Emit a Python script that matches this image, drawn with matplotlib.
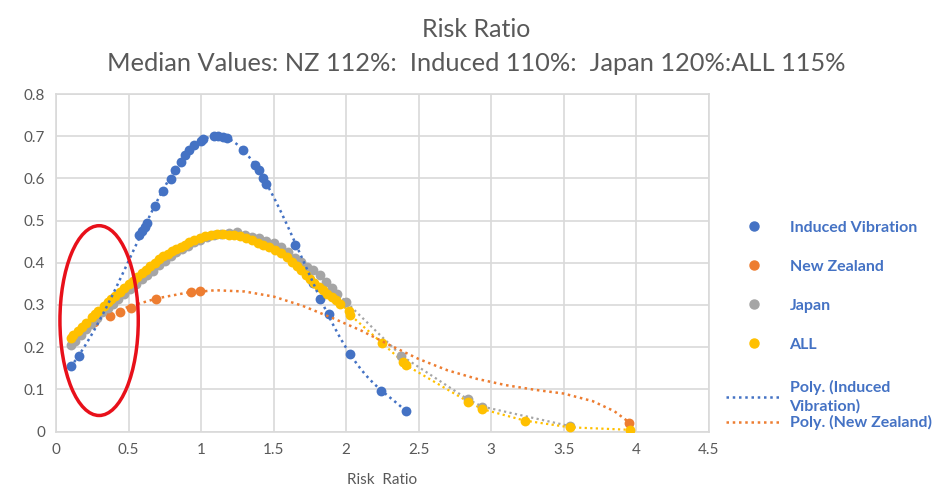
import numpy as np
import matplotlib
matplotlib.use("Agg")
import matplotlib.pyplot as plt
from matplotlib.patches import Ellipse
from matplotlib.lines import Line2D

plt.rcParams['font.family'] = ['Lato', 'DejaVu Sans']

# ---------------- data ----------------
iv_x = [0.10, 0.16, 0.57, 0.59, 0.61, 0.63, 0.68, 0.74, 0.79, 0.82, 0.86, 0.89, 0.92, 0.95,
        1.00, 1.01, 1.09, 1.12, 1.15, 1.18, 1.29, 1.37, 1.40, 1.43, 1.45, 1.65, 1.73, 1.77,
        1.82, 1.88, 2.03, 2.24, 2.41]
iv_y = [0.155, 0.178, 0.465, 0.475, 0.485, 0.495, 0.535, 0.570, 0.598, 0.620, 0.638, 0.655,
        0.668, 0.680, 0.690, 0.693, 0.700, 0.700, 0.699, 0.696, 0.668, 0.632, 0.620, 0.600,
        0.588, 0.443, 0.385, 0.352, 0.314, 0.279, 0.184, 0.096, 0.049]

nz_x = [0.26, 0.37, 0.44, 0.52, 0.69, 0.93, 0.99, 3.95]
nz_y = [0.260, 0.274, 0.283, 0.294, 0.315, 0.330, 0.334, 0.021]

# NZ polynomial trendline
nz_trend_x = [0.44, 0.5, 0.7, 0.9, 1.1, 1.3, 1.5, 1.7, 1.9, 2.1, 2.3, 2.5, 2.7, 2.9, 3.1,
              3.3, 3.5, 3.7, 3.85, 3.95]
nz_trend_y = [0.288, 0.296, 0.316, 0.329, 0.335, 0.332, 0.320, 0.298, 0.270, 0.240, 0.205,
              0.172, 0.145, 0.125, 0.110, 0.099, 0.090, 0.072, 0.048, 0.022]

jp_x = [0.10, 0.13, 0.17, 0.21, 0.24, 0.28, 0.32, 0.36, 0.39, 0.43, 0.47, 0.51, 0.55, 0.59,
        0.63, 0.67, 0.71, 0.75, 0.79, 0.83, 0.87, 0.91, 0.95, 0.99, 1.04, 1.09, 1.14, 1.19,
        1.25, 1.30, 1.35, 1.40, 1.45, 1.50, 1.55, 1.60, 1.65, 1.69, 1.73, 1.77, 1.82, 1.86,
        1.90, 1.94, 2.00, 2.38, 2.84, 2.94, 3.54]
jp_y = [0.205, 0.214, 0.228, 0.243, 0.256, 0.270, 0.283, 0.293, 0.302, 0.314, 0.326, 0.339,
        0.350, 0.361, 0.371, 0.381, 0.395, 0.405, 0.416, 0.425, 0.433, 0.441, 0.449, 0.455,
        0.461, 0.465, 0.468, 0.470, 0.473, 0.467, 0.462, 0.458, 0.452, 0.446, 0.438, 0.426,
        0.412, 0.401, 0.390, 0.382, 0.372, 0.355, 0.341, 0.327, 0.307, 0.180, 0.076, 0.059,
        0.013]

all_x = [0.10, 0.12, 0.15, 0.18, 0.21, 0.25, 0.27, 0.29, 0.33, 0.36, 0.38, 0.41, 0.44, 0.47,
         0.50, 0.53, 0.56, 0.59, 0.62, 0.65, 0.68, 0.71, 0.74, 0.77, 0.80, 0.83, 0.86, 0.89,
         0.92, 0.95, 0.99, 1.03, 1.07, 1.11, 1.15, 1.19, 1.23, 1.27, 1.31, 1.35, 1.39, 1.43,
         1.47, 1.51, 1.55, 1.59, 1.63, 1.66, 1.69, 1.72, 1.75, 1.78, 1.81, 1.84, 1.87, 1.90,
         1.93, 1.96, 2.02, 2.03, 2.25, 2.39, 2.41, 2.84, 2.94, 3.23, 3.54, 3.96]
all_y = [0.221, 0.228, 0.238, 0.248, 0.258, 0.272, 0.279, 0.285, 0.298, 0.307, 0.314, 0.322,
         0.331, 0.340, 0.349, 0.357, 0.366, 0.375, 0.383, 0.392, 0.400, 0.408, 0.415, 0.421,
         0.427, 0.432, 0.437, 0.443, 0.449, 0.454, 0.459, 0.463, 0.466, 0.468, 0.468, 0.467,
         0.466, 0.463, 0.459, 0.454, 0.448, 0.442, 0.437, 0.431, 0.423, 0.413, 0.401, 0.392,
         0.383, 0.372, 0.362, 0.352, 0.343, 0.335, 0.327, 0.319, 0.311, 0.303, 0.285, 0.276,
         0.209, 0.166, 0.158, 0.071, 0.053, 0.026, 0.010, 0.004]

x_ticks = [0, 0.5, 1, 1.5, 2, 2.5, 3, 3.5, 4, 4.5]
x_tick_labels = ['0', '0.5', '1', '1.5', '2', '2.5', '3', '3.5', '4', '4.5']
y_ticks = [0, 0.1, 0.2, 0.3, 0.4, 0.5, 0.6, 0.7, 0.8]
y_tick_labels = ['0', '0.1', '0.2', '0.3', '0.4', '0.5', '0.6', '0.7', '0.8']

# highlight ellipse (center x, center y, width, height) in data units
highlight = [0.297, 0.263, 0.54, 0.45]

BLUE = '#4472C4'
ORANGE = '#ED7D31'
GRAY = '#A5A5A5'
YELLOW = '#FFC000'
TXT = '#595959'
DOT = (0, (1, 1.5))

fig = plt.figure(figsize=(9.4, 4.98), dpi=100)
ax = fig.add_axes([0.0596, 0.1335, 0.6944, 0.6775])

ms = 50
# dotted connecting lines for Japan & ALL
ax.plot(jp_x, jp_y, linestyle=DOT, color=GRAY, lw=1.6, zorder=2)
ax.plot(all_x, all_y, linestyle=DOT, color=YELLOW, lw=1.6, zorder=2)

ax.scatter(iv_x, iv_y, s=ms, color=BLUE, zorder=3, linewidths=0)
ax.scatter(nz_x, nz_y, s=ms, color=ORANGE, zorder=3, linewidths=0)
ax.scatter(jp_x, jp_y, s=ms, color=GRAY, zorder=3, linewidths=0)
ax.scatter(all_x, all_y, s=ms, color=YELLOW, zorder=4, linewidths=0)

# polynomial trendline for Induced Vibration
coef = np.polyfit(iv_x, iv_y, 6)
xx = np.linspace(min(iv_x), max(iv_x), 300)
ax.plot(xx, np.polyval(coef, xx), linestyle=DOT, color=BLUE, lw=1.8, zorder=5)
# NZ trendline
ax.plot(nz_trend_x, nz_trend_y, linestyle=DOT, color=ORANGE, lw=1.8, zorder=5)

ax.add_patch(Ellipse((highlight[0], highlight[1]), highlight[2], highlight[3],
                     fill=False, edgecolor='#E8101A', lw=2.5, zorder=6))

ax.set_xlim(0, 4.5)
ax.set_ylim(0, 0.8)
ax.set_xticks(x_ticks)
ax.set_xticklabels(x_tick_labels)
ax.set_yticks(y_ticks)
ax.set_yticklabels(y_tick_labels)
ax.grid(True, color='#D9D9D9', lw=1.2)
ax.set_axisbelow(True)
for s in ax.spines.values():
    s.set_color('#D9D9D9')
    s.set_linewidth(1.2)
ax.tick_params(length=0, labelsize=11, labelcolor=TXT, pad=8)
ax.set_xlabel('Risk  Ratio', fontsize=11, color=TXT, labelpad=12)

fig.text(0.507, 0.94, 'Risk Ratio', ha='center', va='center', fontsize=18, color=TXT)
fig.text(0.507, 0.873, 'Median Values: NZ 112%:  Induced 110%:  Japan 120%:ALL 115%',
         ha='center', va='center', fontsize=18.3, color=TXT)

mk = dict(marker='o', linestyle='none', markersize=6.5)
h1 = [Line2D([], [], color=c, **mk) for c in (BLUE, ORANGE, GRAY, YELLOW)]
l1 = ['Induced Vibration', 'New Zealand', 'Japan', 'ALL']
h2 = [Line2D([], [], color=BLUE, linestyle=DOT, lw=1.8),
      Line2D([], [], color=ORANGE, linestyle=DOT, lw=1.8)]
l2 = ['Poly. (Induced\nVibration)', 'Poly. (New Zealand)']
prop = {'weight': 'bold', 'size': 11.5}

leg1 = fig.legend(h1, l1, loc='upper left', bbox_to_anchor=(0.766, 0.570),
                  frameon=False, handlelength=3.4, handletextpad=0.55,
                  labelspacing=1.55, prop=prop, borderaxespad=0)
leg2 = fig.legend(h2, l2, loc='upper left', bbox_to_anchor=(0.766, 0.249),
                  frameon=False, handlelength=3.4, handletextpad=0.55,
                  labelspacing=0.12, prop=prop, borderaxespad=0)
for t in leg1.get_texts():
    t.set_color(BLUE)
for t in leg2.get_texts():
    t.set_color(BLUE)
    t.set_linespacing(1.3)

fig.savefig('out.png', dpi=100)
